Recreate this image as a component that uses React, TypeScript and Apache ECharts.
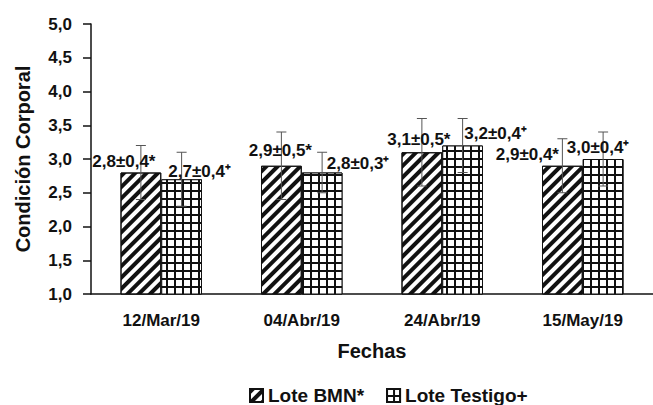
import React, { useEffect, useRef } from "react";
import * as echarts from "echarts";

const categories = ["12/Mar/19", "04/Abr/19", "24/Abr/19", "15/May/19"];
const seriesNames = ["Lote BMN*", "Lote Testigo+"];
const bmnMean = [2.8, 2.9, 3.1, 2.9];
const bmnSd = [0.4, 0.5, 0.5, 0.4];
const testigoMean = [2.7, 2.8, 3.2, 3.0];
const testigoSd = [0.4, 0.3, 0.4, 0.4];
const labelMarks = ["*", "\u207A"];

// label offsets (style only): [dx, dy] relative to bar centre/top
const labelShift = [
  [[-17, -11], [-1, -15], [-3, -13], [-35, -11]],
  [[18, -8], [36, -9], [33, -12], [-5, -12]],
];

const fmt = (v: number) => v.toFixed(1).replace(".", ",");
const FONT = "'Liberation Sans', Arial, sans-serif";
const CAT_GAP = 0.42;

export default function App() {
  const ref = useRef<HTMLDivElement>(null);
  useEffect(() => {
    if (!ref.current) return;
    const chart = echarts.init(ref.current, undefined, { renderer: "svg" });
    const errData: any[] = [];
    [bmnMean, testigoMean].forEach((means, s) => {
      const sds = s === 0 ? bmnSd : testigoSd;
      means.forEach((m, i) => {
        errData.push([i, m, sds[i], s]);
      });
    });
    const option: any = {
      animation: false,
      grid: { left: 91, right: -8, top: 24, bottom: 111 },
      legend: {
        left: 244,
        top: 381,
        icon: "rect",
        itemWidth: 13,
        itemHeight: 13,
        itemGap: 22,
        textStyle: { fontFamily: FONT, fontWeight: "bold", fontSize: 19, color: "#111" },
        data: seriesNames,
      },
      xAxis: {
        type: "category",
        data: categories,
        name: "Fechas",
        nameLocation: "middle",
        nameGap: 47,
        nameTextStyle: { fontFamily: FONT, fontWeight: "bold", fontSize: 20, color: "#111" },
        axisLine: { lineStyle: { color: "#111", width: 1.5 } },
        axisTick: { length: 6, lineStyle: { color: "#111", width: 1.5 } },
        axisLabel: { margin: 18, fontFamily: FONT, fontWeight: "bold", fontSize: 17, color: "#111" },
      },
      yAxis: {
        type: "value",
        min: 1,
        max: 5,
        interval: 0.5,
        name: "Condición Corporal",
        nameLocation: "middle",
        nameGap: 58,
        nameTextStyle: { fontFamily: FONT, fontWeight: "bold", fontSize: 20, color: "#111" },
        splitLine: { show: false },
        axisLine: { show: true, lineStyle: { color: "#111", width: 1.5 } },
        axisTick: { show: true, length: 8, lineStyle: { color: "#111", width: 1.5 } },
        axisLabel: {
          margin: 19,
          fontFamily: FONT,
          fontWeight: "bold",
          fontSize: 17,
          color: "#111",
          formatter: (v: number) => fmt(v),
        },
      },
      series: [
        {
          name: seriesNames[0],
          type: "bar",
          data: bmnMean,
          barGap: "0%",
          barCategoryGap: CAT_GAP * 100 + "%",
          itemStyle: {
            color: "#fff",
            borderColor: "#111",
            borderWidth: 1,
            decal: {
              symbol: "rect",
              symbolSize: 1,
              dashArrayX: [1, 0],
              dashArrayY: [3.5, 4],
              rotation: -Math.PI / 4,
              color: "#111",
            },
          },
        },
        {
          name: seriesNames[1],
          type: "bar",
          data: testigoMean,
          barGap: "0%",
          barCategoryGap: CAT_GAP * 100 + "%",
          itemStyle: {
            color: "#111",
            borderColor: "#111",
            borderWidth: 1,
            decal: {
              symbol: "rect",
              symbolSize: 1,
              dashArrayX: [5.6, 1.2],
              dashArrayY: [5.6, 1.2],
              rotation: 0,
              color: "#fff",
            },
          },
        },
        {
          type: "custom",
          z: 10,
          silent: true,
          data: errData,
          renderItem: (params: any, api: any) => {
            const i = api.value(0);
            const m = api.value(1);
            const sd = api.value(2);
            const s = api.value(3);
            const band = api.size([1, 0])[0];
            const bw = (band * (1 - CAT_GAP)) / 2;
            const base = api.coord([i, m]);
            const cx = base[0] + (s === 0 ? -bw / 2 : bw / 2);
            const yTop = api.coord([i, m + sd])[1];
            const yBot = api.coord([i, m - sd])[1];
            const cap = 5;
            const ls = { stroke: "#555", lineWidth: 1 };
            const sh = labelShift[s][i];
            return {
              type: "group",
              children: [
                { type: "line", shape: { x1: cx, y1: yTop, x2: cx, y2: yBot }, style: ls },
                { type: "line", shape: { x1: cx - cap, y1: yTop, x2: cx + cap, y2: yTop }, style: ls },
                { type: "line", shape: { x1: cx - cap, y1: yBot, x2: cx + cap, y2: yBot }, style: ls },
                {
                  type: "text",
                  x: cx + sh[0],
                  y: base[1] + sh[1],
                  style: {
                    text: fmt(m) + "±" + fmt(sd) + labelMarks[s],
                    fontFamily: FONT,
                    fontWeight: "bold",
                    fontSize: 17,
                    fill: "#111",
                    align: "center",
                    verticalAlign: "middle",
                  },
                },
              ],
            };
          },
        },
      ],
    };
    chart.setOption(option);
    return () => chart.dispose();
  }, []);
  return (
    <div
      ref={ref}
      style={{ position: "fixed", left: 0, top: 0, width: 653, height: 405, background: "#fff" }}
    />
  );
}
